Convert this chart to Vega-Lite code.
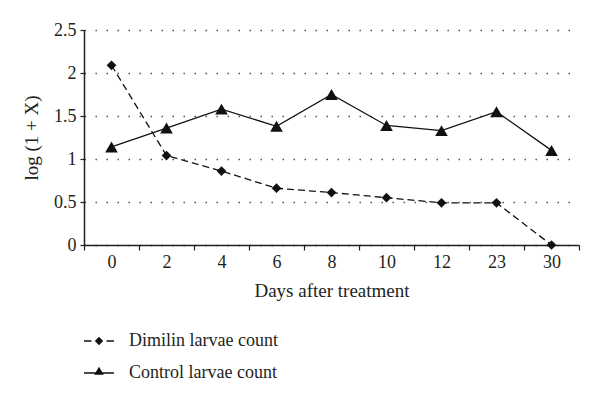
{
  "$schema": "https://vega.github.io/schema/vega-lite/v6.json",
  "width": 495,
  "height": 215,
  "autosize": {"type": "none"},
  "padding": {"left": 84, "top": 30, "right": 21, "bottom": 157},
  "background": "white",
  "config": {
    "font": "Liberation Serif",
    "view": {"stroke": null},
    "axis": {
      "labelFont": "Liberation Serif",
      "titleFont": "Liberation Serif",
      "labelColor": "#231f20",
      "titleColor": "#231f20",
      "labelFontSize": 18,
      "titleFontSize": 19,
      "titleFontWeight": "normal",
      "domainColor": "#231f20",
      "domainWidth": 1.5,
      "tickColor": "#231f20",
      "tickWidth": 1.2
    }
  },
  "data": {
    "values": [
      {"day": 0, "series": "Dimilin larvae count", "value": 2.09},
      {"day": 2, "series": "Dimilin larvae count", "value": 1.04},
      {"day": 4, "series": "Dimilin larvae count", "value": 0.86},
      {"day": 6, "series": "Dimilin larvae count", "value": 0.66},
      {"day": 8, "series": "Dimilin larvae count", "value": 0.61},
      {"day": 10, "series": "Dimilin larvae count", "value": 0.55},
      {"day": 12, "series": "Dimilin larvae count", "value": 0.49},
      {"day": 23, "series": "Dimilin larvae count", "value": 0.49},
      {"day": 30, "series": "Dimilin larvae count", "value": 0.0},
      {"day": 0, "series": "Control larvae count", "value": 1.14},
      {"day": 2, "series": "Control larvae count", "value": 1.36},
      {"day": 4, "series": "Control larvae count", "value": 1.58},
      {"day": 6, "series": "Control larvae count", "value": 1.38},
      {"day": 8, "series": "Control larvae count", "value": 1.75},
      {"day": 10, "series": "Control larvae count", "value": 1.39},
      {"day": 12, "series": "Control larvae count", "value": 1.33},
      {"day": 23, "series": "Control larvae count", "value": 1.55},
      {"day": 30, "series": "Control larvae count", "value": 1.1}
    ]
  },
  "encoding": {
    "x": {
      "field": "day",
      "type": "ordinal",
      "scale": {"type": "band", "paddingInner": 0, "paddingOuter": 0},
      "axis": {
        "title": "Days after treatment",
        "labelAngle": 0,
        "tickBand": "extent",
        "tickSize": 5,
        "labelPadding": 3,
        "titlePadding": 10,
        "grid": false
      }
    },
    "y": {
      "field": "value",
      "type": "quantitative",
      "scale": {"domain": [0, 2.5], "nice": false},
      "axis": {
        "title": "log (1 + X)",
        "values": [0, 0.5, 1, 1.5, 2, 2.5],
        "format": ".1~f",
        "tickSize": 4,
        "labelPadding": 4,
        "titlePadding": 12,
        "grid": true,
        "gridDash": [1.5, 9.5],
        "gridColor": "#555555",
        "gridWidth": 1.3
      }
    }
  },
  "layer": [
    {
      "transform": [{"filter": "datum.series === 'Dimilin larvae count'"}],
      "mark": {
        "type": "line",
        "color": "#111111",
        "strokeWidth": 1.3,
        "strokeDash": [7, 4],
        "point": {"shape": "diamond", "filled": true, "size": 95, "color": "#111111"}
      }
    },
    {
      "transform": [{"filter": "datum.series === 'Control larvae count'"}],
      "mark": {
        "type": "line",
        "color": "#111111",
        "strokeWidth": 1.3,
        "point": {"shape": "triangle-up", "filled": true, "size": 160, "color": "#111111"}
      }
    },
    {
      "transform": [{"filter": "false"}],
      "mark": {"type": "point", "filled": true, "color": "#111111", "fill": "#111111", "opacity": 1},
      "encoding": {
        "shape": {
          "field": "series",
          "type": "nominal",
          "scale": {
            "domain": ["Dimilin larvae count", "Control larvae count"],
            "range": [
              "M-1,-0.045L-0.5,-0.045L-0.5,0.045L-1,0.045ZM0.5,-0.045L1,-0.045L1,0.045L0.5,0.045ZM0,-0.28L0.28,0L0,0.28L-0.28,0Z",
              "M-1,-0.045L1,-0.045L1,0.045L-1,0.045ZM0,-0.42L0.32,0.12L-0.32,0.12Z"
            ]
          },
          "legend": {
            "title": null,
            "orient": "none",
            "legendX": 0,
            "legendY": 296,
            "symbolSize": 900,
            "symbolFillColor": "#111111",
            "symbolStrokeWidth": 0,
            "symbolOpacity": 1,
            "labelFont": "Liberation Serif",
            "labelFontSize": 18,
            "labelColor": "#231f20",
            "labelOffset": 15,
            "rowPadding": 8,
            "labelLimit": 300
          }
        }
      }
    }
  ]
}
